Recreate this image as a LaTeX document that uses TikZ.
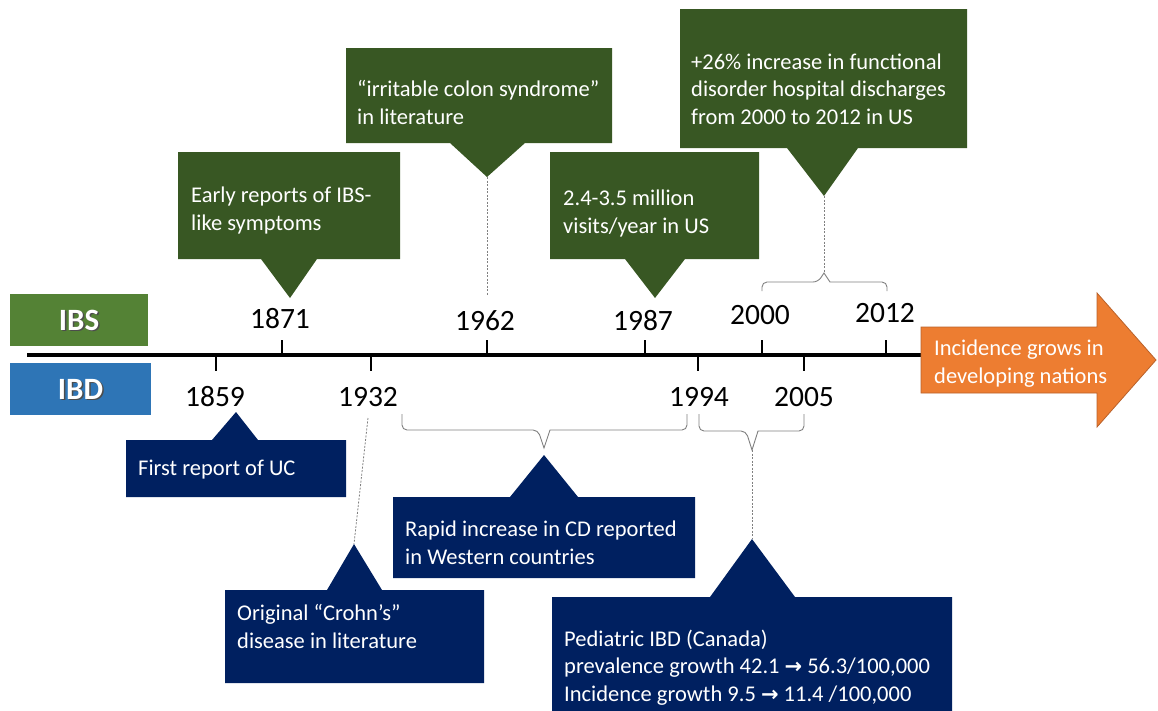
\documentclass[tikz,border=0pt]{standalone}
\usepackage{fontspec}
\setmainfont{Carlito}
\newfontfamily\djv{DejaVu Sans}
\definecolor{dgreen}{HTML}{385723}
\definecolor{navy}{HTML}{002060}
\definecolor{ibsgreen}{HTML}{548235}
\definecolor{ibdblue}{HTML}{2E75B6}
\definecolor{orangefill}{HTML}{ED7D31}
\definecolor{orangeline}{HTML}{B9612A}
\definecolor{bracegray}{HTML}{7F7F7F}
\newcommand{\arr}{{\djv\bfseries\fontsize{21}{20}\selectfont →}}
\tikzset{
  gcall/.style={fill=dgreen},
  bcall/.style={fill=navy},
  ctext/.style={text=white, anchor=base west, inner sep=0pt, align=left,
     font=\fontsize{22.5}{27.5}\selectfont},
  year/.style={anchor=base, inner sep=0pt, font=\fontsize{29.5}{30}\selectfont},
  tickmark/.style={line width=1.3pt},
  bracestyle/.style={draw=bracegray, line width=0.9pt, rounded corners=5pt},
  dotline/.style={draw=gray, line width=0.8pt, dash pattern=on 2pt off 1.5pt},
  lbl/.style={text=white, inner sep=0pt, font=\bfseries\fontsize{31}{32}\selectfont},
  lblshadow/.style={text=black!70, inner sep=0pt, font=\bfseries\fontsize{31}{32}\selectfont},
}
\begin{document}
\begin{tikzpicture}[x=1pt,y=-1pt]
\useasboundingbox (0,0) rectangle (1158,710);

% IBS / IBD labels
\fill[ibsgreen] (10,294) rectangle (148,346);
\node[lblshadow] at (80.5,321.5) {IBS};
\node[lbl] (ibs) at (79,320) {IBS};
\fill[ibdblue] (10,363) rectangle (151,415);
\node[lblshadow] at (82,390.5) {IBD};
\node[lbl] (ibd) at (80.5,389) {IBD};

% timeline
\draw[line width=4pt] (27,355) -- (925,355);
\foreach \x in {282,487,645,762,886} \draw[tickmark] (\x,340) -- (\x,355);
\foreach \x in {216,371,698,804} \draw[tickmark] (\x,355) -- (\x,371);

% years
\node[year] (y1871) at (280,328) {1871};
\node[year] (y1962) at (485,330) {1962};
\node[year] (y1987) at (643,330) {1987};
\node[year] (y2000) at (760,324) {2000};
\node[year] (y2012) at (885,322) {2012};
\node[year] (y1859) at (215,406) {1859};
\node[year] (y1932) at (368,406) {1932};
\node[year] (y1994) at (699,406) {1994};
\node[year] (y2005) at (804,406) {2005};

% orange arrow
\draw[fill=orangefill, draw=orangeline, line width=0.8pt]
  (921,327) -- (1097,327) -- (1097,293) -- (1156,360) -- (1097,427) -- (1097,393) -- (921,393) -- cycle;
\node[ctext] (dev) at (934,383) {Incidence grows in\\developing nations};

% green callouts
\fill[gcall] (178,152) -- (400,152) -- (400,259) -- (317,259) -- (290,298) -- (261,259) -- (178,259) -- cycle;
\node[ctext] (c1871) at (191,230) {Early reports of IBS-\\like symptoms};

\fill[gcall] (346,48) -- (612,48) -- (612,143) -- (525,143) -- (487,177) -- (450,143) -- (346,143) -- cycle;
\node[ctext] (c1962) at (357,124) {“irritable colon syndrome”\\in literature};
\coordinate (t1962) at (487,177);
\coordinate (e1962) at (487,296);
\draw[dotline] (t1962) -- (e1962);

\fill[gcall] (550,152) -- (759,152) -- (759,259) -- (685,259) -- (655,298) -- (625,259) -- (550,259) -- cycle;
\node[ctext] (c1987) at (563,233) {2.4-3.5 million\\visits/year in US};

\fill[gcall] (680,9) -- (967,9) -- (967,148) -- (858,148) -- (824,196) -- (787,148) -- (680,148) -- cycle;
\node[ctext] (c2000) at (691,124) {+26\% increase in functional\\disorder hospital discharges\\from 2000 to 2012 in US};
\coordinate (t2000) at (824,196);
\coordinate (b2000) at (824,273);
\draw[dotline] (t2000) -- (b2000);
\draw[bracestyle] (762,291) -- (762,282) -- (818,282) [sharp corners] -- (b2000) -- (830,282) [rounded corners=5pt] -- (887,282) -- (887,291);

% blue callouts
\fill[bcall] (126,440) -- (212,440) -- (236,412) -- (258,440) -- (346,440) -- (346,497) -- (126,497) -- cycle;
\node[ctext] (c1859) at (138,475) {First report of UC};

\fill[bcall] (225,590) -- (327,590) -- (354,544) -- (382,590) -- (484,590) -- (484,683) -- (225,683) -- cycle;
\node[ctext] (c1932) at (237,648) {Original “Crohn’s”\\disease in literature};
\coordinate (t1932) at (354,544);
\coordinate (e1932) at (368,418);
\draw[dotline] (e1932) -- (t1932);

\coordinate (b1932) at (544,448);
\draw[bracestyle] (402,414) -- (402,430) -- (538,430) [sharp corners] -- (b1932) -- (550,430) [rounded corners=5pt] -- (687,430) -- (687,414);
\fill[bcall] (393,497) -- (510,497) -- (544,455) -- (578,497) -- (695,497) -- (695,578) -- (393,578) -- cycle;
\node[ctext] (cCD) at (405,564) {Rapid increase in CD reported\\in Western countries};

\coordinate (b1994) at (752,450);
\draw[bracestyle] (699,414) -- (699,431) -- (746,431) [sharp corners] -- (b1994) -- (758,431) [rounded corners=5pt] -- (804,431) -- (804,414);
\coordinate (t1994) at (752,539);
\draw[dotline] (b1994) -- (t1994);
\fill[bcall] (552,597) -- (710,597) -- (752,539) -- (795,597) -- (952,597) -- (952,712) -- (552,712) -- cycle;
\node[ctext] (cPed) at (564,701) {Pediatric IBD (Canada)\\prevalence growth 42.1 \arr{} 56.3/100,000\\Incidence growth 9.5 \arr{} 11.4 /100,000};
\end{tikzpicture}
\end{document}
